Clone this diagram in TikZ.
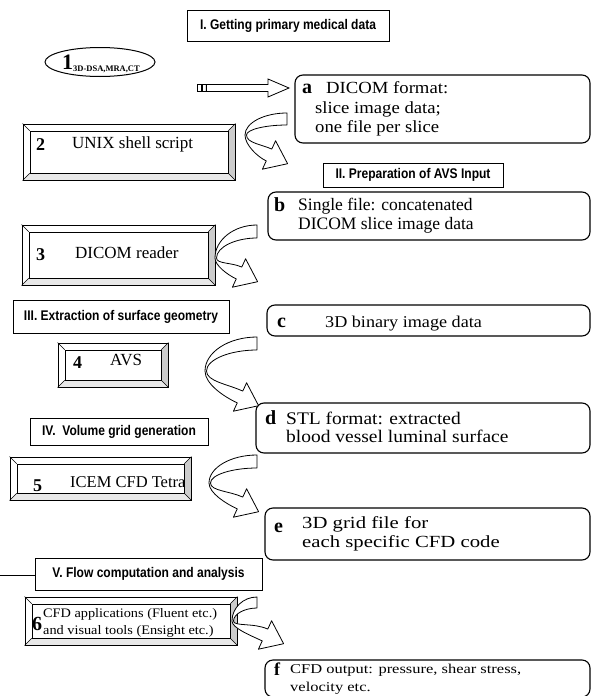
\documentclass[tikz,border=0pt]{standalone}
\usepackage{fontspec}
\setmainfont{Liberation Serif}
\newfontfamily\hdrfont[FakeStretch=0.86]{Liberation Sans}
\newfontfamily\wideserif[FakeStretch=1.1]{Liberation Serif}
\newfontfamily\widerserif[FakeStretch=1.22]{Liberation Serif}
\usetikzlibrary{fit,shapes.geometric}
\newcommand{\bentarrow}[7]{%
\pgfmathsetmacro\baLox{#1-#3}\pgfmathsetmacro\baLoy{#2+#4}%
\pgfmathsetmacro\baLix{#1-#3+1.5}%
\pgfmathsetmacro\baCx{#1+#5}\pgfmathsetmacro\baCy{#2+#6}%
\pgfmathsetmacro\baObx{\baCx-2.75}\pgfmathsetmacro\baOby{\baCy+5.9}%
\pgfmathsetmacro\baIbx{\baCx+2.75}\pgfmathsetmacro\baIby{\baCy-5.9}%
\pgfmathsetmacro\baOwx{\baCx-6.6}\pgfmathsetmacro\baOwy{\baCy+14.2}%
\pgfmathsetmacro\baIwx{\baCx+6.6}\pgfmathsetmacro\baIwy{\baCy-14.2}%
\pgfmathsetmacro\baTx{\baCx+18.6}\pgfmathsetmacro\baTy{\baCy+8.7}%
\pgfmathsetmacro\bako{0.45*(\baObx-\baLox)}%
\pgfmathsetmacro\baki{0.45*(\baIbx-\baLix)}%
\draw[band] (#1,#2) .. controls ({#1-0.55*#3},#2) and (\baLox,{#2+0.45*#4}) .. (\baLox,\baLoy)
 .. controls (\baLox,{\baLoy+0.5*(#6-#4)}) and ({\baObx-0.906*\bako},{\baOby-0.423*\bako}) .. (\baObx,\baOby)
 -- (\baOwx,\baOwy) -- (\baTx,\baTy) -- (\baIwx,\baIwy) -- (\baIbx,\baIby)
 .. controls ({\baIbx-0.906*\baki},{\baIby-0.423*\baki}) and (\baLix,{\baLoy+0.4*(#6-#4)}) .. (\baLix,\baLoy)
 .. controls (\baLix,{#2+#7+0.45*(#4-#7)}) and ({#1-0.55*(#3-3)},{#2+#7}) .. (#1,{#2+#7}) -- cycle;}
\newcommand{\bevelbox}[6]{%
\fill[gray!40] (#4,#3) -- (#4,#5) -- ({#4-#6},{#5-#6}) -- ({#4-#6},{#3+#6}) -- cycle;
\fill[gray!18] (#2,#5) -- (#4,#5) -- ({#4-#6},{#5-#6}) -- ({#2+#6},{#5-#6}) -- cycle;
\node[bevout, fit={(#2,#3) (#4,#5)}] (#1) {};
\node[bevin, fit={({#2+#6},{#3+#6}) ({#4-#6},{#5-#6})}] (#1in) {};
\draw[bevcorner] (#1.north west) -- (#1in.north west) (#1.north east) -- (#1in.north east)
 (#1.south west) -- (#1in.south west) (#1.south east) -- (#1in.south east);}
\begin{document}
\begin{tikzpicture}[x=1pt,y=-1pt,
  hdr/.style={draw, line width=0.8pt, inner sep=0pt},
  hdrtxt/.style={inner sep=0pt, font=\hdrfont\bfseries\fontsize{14}{16}\selectfont},
  rbox/.style={draw, rounded corners=8pt, line width=1.1pt, inner sep=0pt},
  bevout/.style={draw, line width=1pt, inner sep=0pt},
  bevin/.style={draw, line width=0.7pt, inner sep=0pt},
  bevcorner/.style={line width=0.6pt},
  band/.style={draw, line width=0.8pt, fill=white, line join=round},
  txt/.style={anchor=base west, inner sep=0pt, font=\wideserif\fontsize{16.5}{19}\selectfont},
  btxt/.style={anchor=base west, inner sep=0pt, font=\fontsize{17}{19}\selectfont},
  smalltxt/.style={anchor=base west, inner sep=0pt, font=\wideserif\fontsize{13}{15}\selectfont},
  letter/.style={anchor=base west, inner sep=0pt, font=\bfseries\fontsize{20}{20}\selectfont},
  hollow/.style={draw, line width=0.8pt, fill=white}]
\useasboundingbox (0,0) rectangle (600,696);
\fill[white] (0,0) rectangle (600,696);

% headers
\node[hdr, fit={(187,10) (389,41)}] (h1) {};
\node[hdrtxt] (h1t) at (h1.center) {I. Getting primary medical data};
\node[hdr, fit={(323,163) (503,187)}] (h2) {};
\node[hdrtxt] (h2t) at (h2.center) {II. Preparation of AVS Input};
\node[hdr, fit={(13,300) (229,333)}] (h3) {};
\node[hdrtxt] (h3t) at (h3.center) {III. Extraction of surface geometry};
\node[hdr, fit={(30,418) (208,445)}] (h4) {};
\node[hdrtxt] (h4t) at (h4.center) {IV.\ \ Volume grid generation};
\node[hdr, fit={(35,558) (262,590)}] (h5) {};
\node[hdrtxt] (h5t) at (h5.center) {V. Flow computation and analysis};
\coordinate (lstart) at (0,575);
\draw[line width=0.8pt] (lstart) -- (h5.west |- lstart);

% ellipse 1
\node[draw, ellipse, line width=1pt, minimum width=110pt, minimum height=29pt, inner sep=0pt] (n1) at (100,62) {};
\node[anchor=base west, inner sep=0pt] (n1t) at (62,69) {{\bfseries\fontsize{22}{22}\selectfont 1}\raisebox{-2pt}{\bfseries\fontsize{8.5}{9}\selectfont 3D-DSA,MRA,CT}};

% hollow arrow 1 -> a
\node[draw, line width=0.7pt, minimum width=4pt, minimum height=7pt, inner sep=0pt] (sq1) at (199,88) {};
\node[draw, line width=0.7pt, minimum width=4pt, minimum height=7pt, inner sep=0pt] (sq2) at (204,88) {};
\coordinate (hatip) at (289,88);
\draw[hollow] (sq2.east |- 0,84.5) -- (268,84.5) -- (268,79) -- (hatip) -- (268,97) -- (268,91.5) -- (sq2.east |- 0,91.5) -- cycle;

% rounded data boxes
\node[rbox, fit={(295,75) (590,143)}] (a) {};
\node[letter] (la) at (302,93) {a};
\node[txt, font=\wideserif\fontsize{17}{19}\selectfont] (ta1) at (326,93) {DICOM format:};
\node[txt, font=\wideserif\fontsize{17}{19}\selectfont] (ta2) at (315,113) {slice image data;};
\node[txt, font=\wideserif\fontsize{17}{19}\selectfont] (ta3) at (315,132) {one file per slice};

\node[rbox, fit={(268,192) (590,240)}] (b) {};
\node[letter] (lb) at (274,211) {b};
\node[txt, font=\fontsize{17.5}{19}\selectfont] (tb1) at (298,210) {Single file: concatenated};
\node[txt, font=\fontsize{17.5}{19}\selectfont] (tb2) at (298,229) {DICOM slice image data};

\node[rbox, fit={(267,305) (590,336)}] (c) {};
\node[letter] (lc) at (277,327) {c};
\node[txt] (tc1) at (325,327) {3D binary image data};

\node[rbox, fit={(256,403) (590,453)}] (d) {};
\node[letter] (ld) at (265,424) {d};
\node[txt, font=\wideserif\fontsize{17.7}{19}\selectfont] (td1) at (286,424) {STL format: extracted};
\node[txt, font=\wideserif\fontsize{17.7}{19}\selectfont] (td2) at (286,442) {blood vessel luminal surface};

\node[rbox, fit={(265,508) (590,560)}] (e) {};
\node[letter] (le) at (274,532) {e};
\node[txt, font=\widerserif\fontsize{17}{19}\selectfont] (te1) at (302,528) {3D grid file for};
\node[txt, font=\widerserif\fontsize{17}{19}\selectfont] (te2) at (302,547) {each specific CFD code};

\node[rbox, fit={(265,660) (590,697)}] (f) {};
\node[letter, font=\bfseries\fontsize{18}{18}\selectfont] (lf) at (274,675) {f};
\node[anchor=north west, inner sep=0pt, align=left, font=\widerserif\fontsize{13.5}{17.5}\selectfont] (tf) at (290,664) {CFD output: pressure, shear stress,\\velocity etc.};

% bevel boxes
\bevelbox{p2}{23}{124}{235}{180}{7}
\node[letter, font=\bfseries\fontsize{18}{18}\selectfont] (l2) at (36,150) {2};
\node[btxt] (t2) at (72,148) {UNIX shell script};

\bevelbox{p3}{22}{225}{215}{285}{7}
\node[letter, font=\bfseries\fontsize{18}{18}\selectfont] (l3) at (36,260) {3};
\node[btxt] (t3) at (75,258) {DICOM reader};

\bevelbox{p4}{58}{343}{168}{387}{7}
\node[letter, font=\bfseries\fontsize{18}{18}\selectfont] (l4) at (73,368) {4};
\node[btxt] (t4) at (110,365) {AVS};

\bevelbox{p5}{10}{457}{191}{500}{7}
\node[letter, font=\bfseries\fontsize{18}{18}\selectfont] (l5) at (33,491) {5};
\node[btxt, font=\fontsize{16.5}{19}\selectfont] (t5) at (70,487) {ICEM CFD Tetra};

\bevelbox{p6}{25}{597}{237}{645}{7}
\node[letter] (l6) at (32,630) {6};
\node[smalltxt] (t6a) at (43,617) {CFD applications (Fluent etc.)};
\node[smalltxt] (t6b) at (43,634) {and visual tools (Ensight etc.)};

% curved hollow arrows
\bentarrow{287}{113}{42}{22}{-18}{42}{12}
\bentarrow{257}{225}{42}{33}{-18}{48}{13}
\bentarrow{257}{337}{52}{34}{-17}{60}{13}
\bentarrow{257}{455}{48}{28}{-17}{48}{13}
\bentarrow{257}{597}{25}{24}{8}{38}{11}
\end{tikzpicture}
\end{document}
